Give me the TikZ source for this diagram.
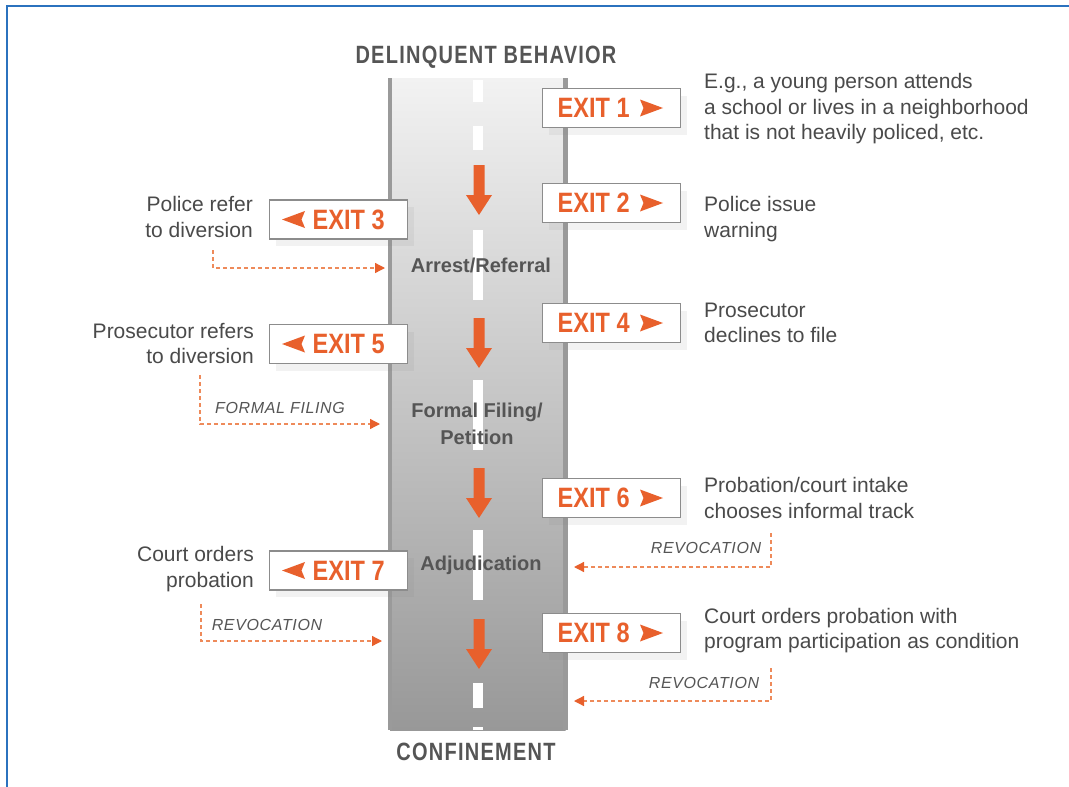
\documentclass[tikz,border=0pt]{standalone}
\usepackage{fontspec}
\setmainfont{Liberation Sans}
\newfontfamily\condfam[FakeStretch=0.84]{Liberation Sans}
\newfontfamily\titlefam[FakeStretch=0.8,LetterSpace=5]{Liberation Sans}
\newfontfamily\tagfam[LetterSpace=4]{Liberation Sans}
\usetikzlibrary{arrows.meta,shadows}
\definecolor{exorange}{HTML}{E8602C}
\definecolor{dashorange}{HTML}{EE8A5A}
\definecolor{txtgray}{HTML}{4A4A4A}
\definecolor{labgray}{HTML}{555555}
\definecolor{frameblue}{HTML}{2B72BE}
\definecolor{roadtop}{HTML}{F2F2F2}
\definecolor{roadbot}{HTML}{989898}
\definecolor{roadedge}{HTML}{9A9A9A}
\definecolor{boxgray}{HTML}{8C8C8C}
\tikzset{
  frameline/.style={draw=frameblue, line width=2.4pt},
  edgeline/.style={draw=roadedge, line width=4.5pt},
  exitbox/.style={draw=boxgray, line width=1.3pt, fill=white, minimum width=138pt, minimum height=39pt, inner sep=0pt,
    drop shadow={opacity=0.10, shadow xshift=6pt, shadow yshift=-7pt}},
  exittext/.style={text=exorange, font=\condfam\bfseries\fontsize{28}{30}\selectfont, inner sep=0pt, anchor=west},
  noter/.style={text=txtgray, font=\fontsize{21}{25.5}\selectfont, inner sep=0pt, align=left, anchor=west},
  notel/.style={text=txtgray, font=\fontsize{21}{25.5}\selectfont, inner sep=0pt, align=right, anchor=east},
  roadlabel/.style={text=labgray, font=\bfseries\fontsize{20}{27}\selectfont, inner sep=0pt, align=center},
  titlelabel/.style={text=labgray, font=\titlefam\bfseries\fontsize{25}{27}\selectfont, inner sep=0pt},
  taglabel/.style={text=labgray, font=\tagfam\itshape\fontsize{16}{18}\selectfont, inner sep=0pt},
  flow/.style={draw=dashorange, line width=1.3pt, dash pattern=on 4pt off 3pt,
    -{Triangle[length=10pt,width=10pt,color=exorange]}},
}
\begin{document}
\begin{tikzpicture}[x=1pt,y=-1pt]
\useasboundingbox (0,0) rectangle (1069,787);
\fill[white] (0,0) rectangle (1069,787);
\draw[frameline] (7.2,787) -- (7.2,6) -- (1069,6);

% road
\shade[top color=roadtop, bottom color=roadbot] (390,78) rectangle (565.5,730);
\draw[edgeline] (390,78) -- (390,730);
\draw[edgeline] (565.5,78) -- (565.5,730);
\foreach \a/\b in {80/102,126/150,230/300,380/450,530/600,683/708,727/730}
  \fill[white] (473,\a) rectangle (483,\b);
\foreach \y in {165,318,468,619}
  \fill[exorange] (473.5,\y) -- (484.5,\y) -- (484.5,\y+30) -- (492,\y+30) -- (479,\y+50) -- (466,\y+30) -- (473.5,\y+30) -- cycle;

% titles
\node[titlelabel] (top) at (486,57) {DELINQUENT BEHAVIOR};
\node[titlelabel] (bottom) at (476,751.5) {CONFINEMENT};

% road labels
\node[roadlabel] (arrest) at (481,265) {Arrest/Referral};
\node[roadlabel] (filing) at (477,424) {Formal Filing/\\Petition};
\node[roadlabel] (adjud) at (481,565) {Adjudication};

% right exits
\foreach \n/\y in {1/108,2/203,4/323,6/498,8/633}{
  \node[exitbox] (exit\n) at (611.5,\y) {};
  \node[exittext] (exittxt\n) at (557.5,\y) {EXIT \n};
  \fill[exorange] (640,\y-8.5) -- (663,\y) -- (640,\y+8.5) -- (643.5,\y) -- cycle;
}
% left exits
\foreach \n/\y in {3/219.5,5/344,7/570.5}{
  \node[exitbox] (exit\n) at (338.5,\y) {};
  \node[exittext] (exittxt\n) at (312.5,\y) {EXIT \n};
  \fill[exorange] (305,\y-8.5) -- (282,\y) -- (305,\y+8.5) -- (301.5,\y) -- cycle;
}

% notes
\node[noter] (note1) at (704,109) {E.g., a young person attends\\a school or lives in a neighborhood\\that is not heavily policed, etc.};
\node[noter] (note2) at (704,219) {Police issue\\warning};
\node[noter] (note4) at (704,323) {Prosecutor\\declines to file};
\node[noter] (note6) at (704,498) {Probation/court intake\\chooses informal track};
\node[noter] (note8) at (704,630.5) {Court orders probation with\\program participation as condition};
\node[notel] (note3) at (253,217) {Police refer\\to diversion};
\node[notel] (note5) at (254,343.5) {Prosecutor refers\\to diversion};
\node[notel] (note7) at (254,569) {Court orders\\probation};

% dashed flows
\coordinate (f3a) at (213,250); \coordinate (f3b) at (213,268); \coordinate (f3c) at (385,268);
\draw[flow] (f3a) -- (f3b) -- (f3c);
\coordinate (f5a) at (200,375); \coordinate (f5b) at (200,424); \coordinate (f5c) at (380,424);
\draw[flow] (f5a) -- (f5b) -- (f5c);
\coordinate (f7a) at (201,604); \coordinate (f7b) at (201,641); \coordinate (f7c) at (382,641);
\draw[flow] (f7a) -- (f7b) -- (f7c);
\coordinate (f6a) at (771,533); \coordinate (f6b) at (771,567); \coordinate (f6c) at (574,567);
\draw[flow] (f6a) -- (f6b) -- (f6c);
\coordinate (f8a) at (771,668); \coordinate (f8b) at (771,701); \coordinate (f8c) at (574,701);
\draw[flow] (f8a) -- (f8b) -- (f8c);

\node[taglabel] (tag5) at (280,408) {FORMAL FILING};
\node[taglabel] (tag7) at (267,625) {REVOCATION};
\node[taglabel] (tag6) at (706,548) {REVOCATION};
\node[taglabel] (tag8) at (704,683) {REVOCATION};
\end{tikzpicture}
\end{document}
